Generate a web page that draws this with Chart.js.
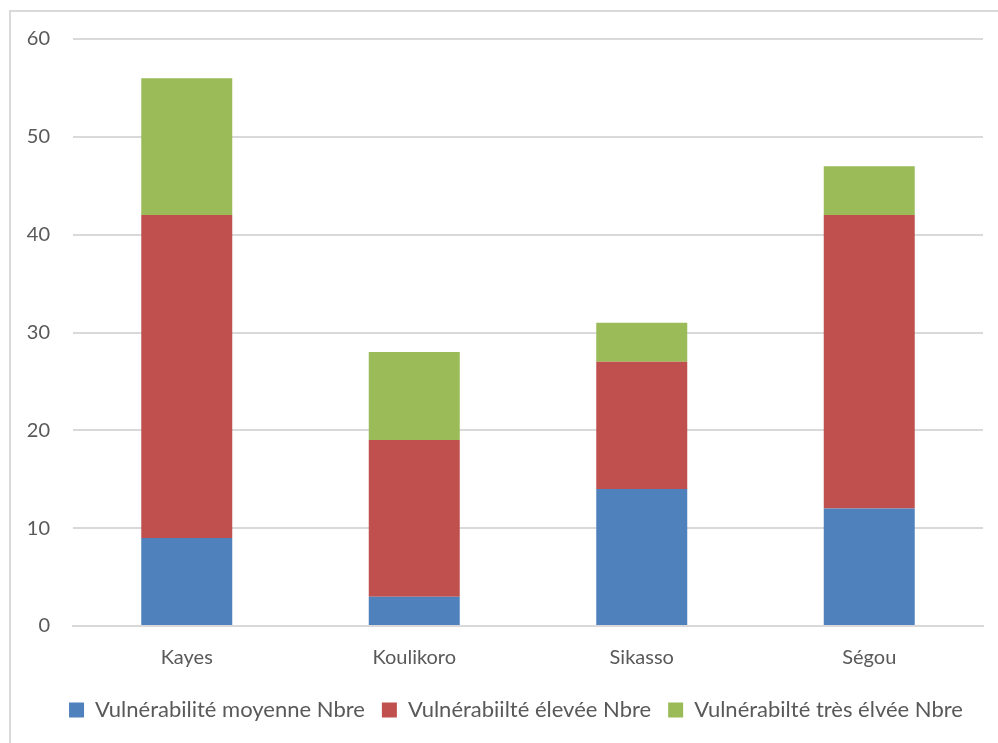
<!DOCTYPE html>
<html>
<head>
<meta charset="utf-8">
<script src="https://cdn.jsdelivr.net/npm/chart.js@4"></script>
<style>
  html, body { margin: 0; padding: 0; background: #fff; }
  #wrap { width: 998px; height: 743px; position: relative; }
</style>
</head>
<body>
<div id="wrap"><canvas id="barchart" width="998" height="743"></canvas></div>
<script>
var regions = ['Kayes', 'Koulikoro', 'Sikasso', 'Ségou']
var moyenne = [9, 3, 14, 12]
var elevee = [33, 16, 13, 30]
var tresElevee = [14, 9, 4, 5]

var textColor = '#595959'
var gridColor = '#d9d9d9'

// light grey frame around the whole chart
const framePlugin = {
    id: 'frame',
    beforeDraw(chart) {
        const c = chart.ctx
        c.save()
        c.fillStyle = '#fff'
        c.fillRect(0, 0, chart.width, chart.height)
        c.strokeStyle = gridColor
        c.lineWidth = 2
        c.strokeRect(10, 11, 1000, 800)
        c.restore()
    }
}

// push the legend a little to the right so it sits under the plot
const legendShift = {
    id: 'legendShift',
    afterLayout(chart) {
        if (chart.legend) chart.legend.left += 36
    }
}

const ctx = document.getElementById('barchart');
new Chart(ctx, {
    type: 'bar',
    data: {
        labels: regions,
        datasets: [{
            label: 'Vulnérabilité moyenne Nbre',
            data: moyenne,
            backgroundColor: '#4f81bd'
        }, {
            label: 'Vulnérabiilté élevée Nbre',
            data: elevee,
            backgroundColor: '#c0504d'
        }, {
            label: 'Vulnérabilté très élvée Nbre',
            data: tresElevee,
            backgroundColor: '#9bbb59'
        }]
    },
    options: {
        responsive: false,
        animation: false,
        layout: {
            padding: { left: 13, right: 15, top: 39, bottom: 12 }
        },
        datasets: {
            bar: { categoryPercentage: 1, barPercentage: 0.4 }
        },
        scales: {
            x: {
                stacked: true,
                grid: { display: false },
                border: { color: gridColor, width: 2 },
                ticks: {
                    color: textColor,
                    font: { family: 'Lato', size: 20 },
                    padding: 12
                }
            },
            y: {
                stacked: true,
                min: 0,
                max: 60,
                grid: { color: gridColor, lineWidth: 2, drawTicks: false },
                border: { display: false },
                ticks: {
                    stepSize: 10,
                    color: textColor,
                    font: { family: 'Lato', size: 20 },
                    padding: 23
                },
                afterFit: function (scale) { scale.width = 60 }
            }
        },
        plugins: {
            legend: {
                position: 'bottom',
                labels: {
                    color: textColor,
                    font: { family: 'Lato', size: 22 },
                    boxWidth: 15,
                    boxHeight: 15,
                    padding: 17
                }
            },
            tooltip: { enabled: false }
        }
    },
    plugins: [framePlugin, legendShift]
});
</script>
</body>
</html>
